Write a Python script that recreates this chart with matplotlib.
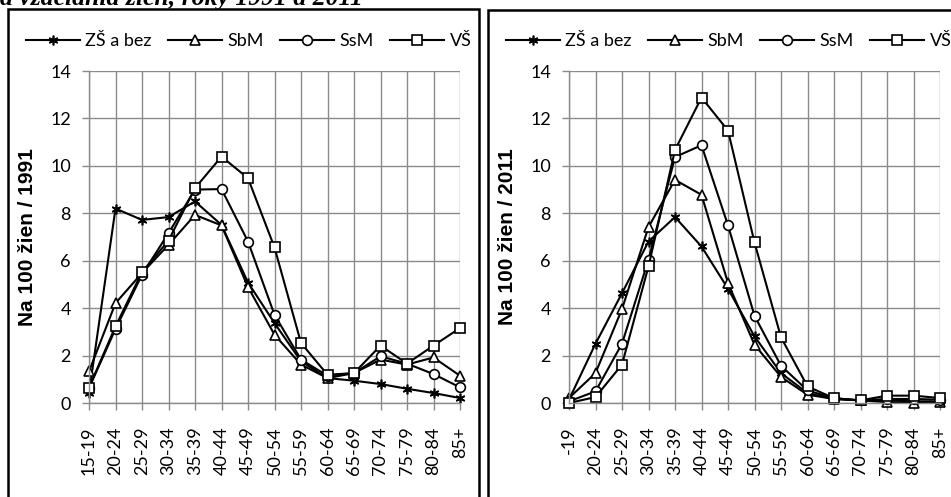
import matplotlib
matplotlib.use('Agg')
import matplotlib.pyplot as plt
import matplotlib.patches as mpatches
import numpy as np

matplotlib.rc('font', family='Lato', size=13)

# Age groups
ages_1991 = ['15-19', '20-24', '25-29', '30-34', '35-39', '40-44', '45-49', '50-54',
             '55-59', '60-64', '65-69', '70-74', '75-79', '80-84', '85+']
ages_2011 = ['-19', '20-24', '25-29', '30-34', '35-39', '40-44', '45-49', '50-54',
             '55-59', '60-64', '65-69', '70-74', '75-79', '80-84', '85+']

series_names = ['ZŠ a bez', 'SbM', 'SsM', 'VŠ']

# 1991
zs_1991 = [0.42, 8.2, 7.72, 7.84, 8.5, 7.51, 5.08, 3.37, 1.76, 1.05, 0.94, 0.8, 0.6, 0.42, 0.21]
sbm_1991 = [1.33, 4.21, 5.48, 6.67, 7.93, 7.49, 4.89, 2.88, 1.62, 1.05, 1.26, 1.83, 1.62, 1.92, 1.15]
ssm_1991 = [0.63, 3.12, 5.41, 7.16, 9.0, 9.02, 6.81, 3.72, 1.83, 1.15, 1.26, 1.97, 1.66, 1.22, 0.66]
vs_1991 = [0.65, 3.23, 5.52, 6.85, 9.06, 10.39, 9.48, 6.56, 2.53, 1.19, 1.26, 2.42, 1.66, 2.42, 3.16]

# 2011
zs_2011 = [0.14, 2.5, 4.63, 6.81, 7.84, 6.6, 4.82, 2.81, 1.26, 0.42, 0.17, 0.11, 0.11, 0.07, 0.07]
sbm_2011 = [0.21, 1.26, 3.96, 7.42, 9.41, 8.78, 5.06, 2.46, 1.1, 0.35, 0.17, 0.11, 0.04, 0.0, 0.04]
ssm_2011 = [0.07, 0.49, 2.5, 6.04, 10.37, 10.87, 7.49, 3.68, 1.57, 0.53, 0.2, 0.11, 0.17, 0.17, 0.14]
vs_2011 = [0.0, 0.25, 1.62, 5.76, 10.67, 12.88, 11.49, 6.77, 2.77, 0.7, 0.2, 0.11, 0.31, 0.31, 0.21]

markers = [(6, 2, 0), '^', 'o', 's']
grid_col = '#8a8a8a'

fig = plt.figure(figsize=(9.51, 4.97), dpi=100)

# boxes around each chart (as in the document)
fig.patches.append(mpatches.Rectangle((7.5 / 951, -0.05), (479.5 - 7.5) / 951, 1.05 - 9 / 497,
                                      transform=fig.transFigure, fill=False, lw=1.8, ec='black'))
fig.patches.append(mpatches.Rectangle((487.5 / 951, -0.05), 0.5, 1.05 - 9.5 / 497,
                                      transform=fig.transFigure, fill=False, lw=1.8, ec='black'))

# caption above the charts, cut by the page crop as in the reference
fig.text(0.0, 1 - 5 / 497, 'a vzdelania žien, roky 1991 a 2011', family='Liberation Serif',
         weight='bold', style='italic', fontsize=18.5, va='baseline', ha='left')


def draw(ax, ages, data, ylabel):
    x = np.arange(len(ages))
    for vals, m, name in zip(data, markers, series_names):
        ax.plot(x, vals, color='black', lw=1.5, marker=m, markersize=7,
                markerfacecolor='white', markeredgecolor='black', markeredgewidth=1.2,
                label=name)
    ax.set_xlim(0, len(ages) - 1)
    ax.set_ylim(0, 14)
    ax.set_yticks(np.arange(0, 15, 2))
    ax.set_xticks(x)
    ax.set_xticklabels(ages, rotation=90)
    ax.grid(True, color=grid_col, lw=1.0)
    ax.set_axisbelow(True)
    for s in ['top', 'right']:
        ax.spines[s].set_visible(False)
    for s in ['left', 'bottom']:
        ax.spines[s].set_color(grid_col)
        ax.spines[s].set_linewidth(1.0)
    ax.tick_params(axis='both', colors=grid_col, labelcolor='black', length=5, width=1.0)
    ax.tick_params(axis='x', pad=12)
    ax.tick_params(axis='y', pad=8)
    ax.set_ylabel(ylabel, family='Liberation Sans', weight='bold', fontsize=15)
    ax.yaxis.set_label_coords(-0.14, 0.5)
    for ln in ax.lines:
        ln.set_clip_on(False)
    ax.legend(loc='lower center', bbox_to_anchor=(0.43, 1.045), ncol=4, frameon=False,
              handlelength=3.0, handletextpad=0.3, columnspacing=0.9, borderaxespad=0)


ax1 = fig.add_axes([89 / 951, 1 - 403 / 497, 371 / 951, 332 / 497])
draw(ax1, ages_1991, [zs_1991, sbm_1991, ssm_1991, vs_1991], 'Na 100 žien / 1991')

ax2 = fig.add_axes([569 / 951, 1 - 403 / 497, 371 / 951, 332 / 497])
draw(ax2, ages_2011, [zs_2011, sbm_2011, ssm_2011, vs_2011], 'Na 100 žien / 2011')

plt.savefig('out.png', dpi=100)
